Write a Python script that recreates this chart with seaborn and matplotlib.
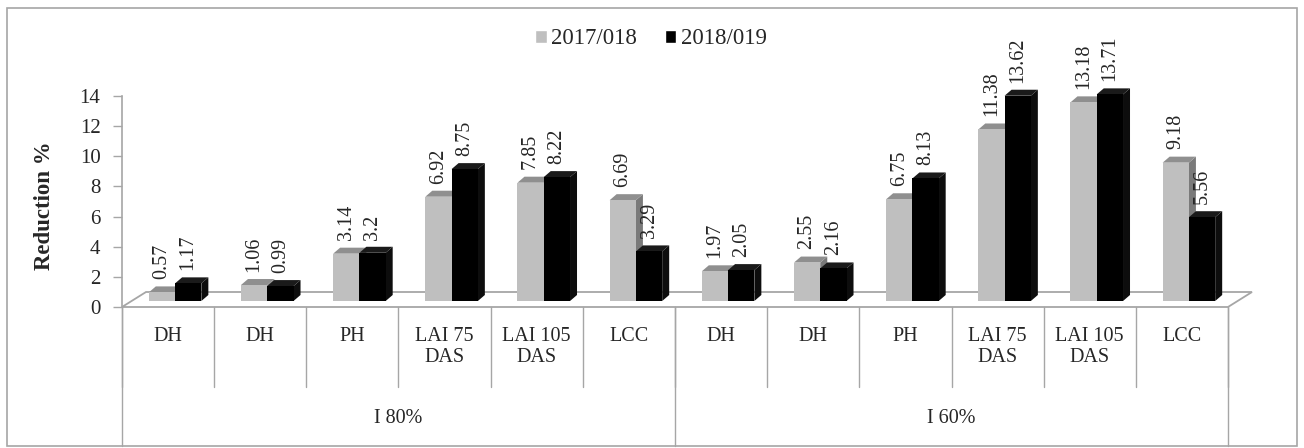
import numpy as np
import pandas as pd
import matplotlib
matplotlib.use("Agg")
import matplotlib.pyplot as plt
import matplotlib.transforms as mtransforms
from matplotlib.patches import Polygon, Rectangle
from matplotlib.lines import Line2D
import seaborn as sns

# ---------------- data ----------------
categories = ["DH", "DH", "PH", "LAI 75\nDAS", "LAI 105\nDAS", "LCC",
              "DH", "DH", "PH", "LAI 75\nDAS", "LAI 105\nDAS", "LCC"]
groups = ["I 80%", "I 60%"]
series_names = ["2017/018", "2018/019"]
season_2017 = [0.57, 1.06, 3.14, 6.92, 7.85, 6.69, 1.97, 2.55, 6.75, 11.38, 13.18, 9.18]
season_2018 = [1.17, 0.99, 3.2, 8.75, 8.22, 3.29, 2.05, 2.16, 8.13, 13.62, 13.71, 5.56]
y_ticks = [0, 2, 4, 6, 8, 10, 12, 14]
series_values = [season_2017, season_2018]

n = len(categories)
df = pd.DataFrame({
    "slot": list(range(n)) * 2,
    "value": season_2017 + season_2018,
    "season": [series_names[0]] * n + [series_names[1]] * n,
})

# ---------------- style ----------------
sns.set_style("white")
plt.rcParams["font.family"] = ["Liberation Serif", "DejaVu Serif"]
FS = 14.5
W, H = 1304, 448
fig = plt.figure(figsize=(W / 100, H / 100), dpi=100)

ax_left, ax_right, y0_px, y14_px = 122, 1228, 307, 96
ax = fig.add_axes([ax_left / W, (H - y0_px) / H, (ax_right - ax_left) / W, (y0_px - y14_px) / H])

front_cols = ["#bfbfbf", "#000000"]
top_cols = ["#8f8f8f", "#1a1a1a"]
side_cols = ["#7a7a7a", "#0d0d0d"]

sns.barplot(data=df, x="slot", y="value", hue="season", palette=front_cols,
            width=0.57, saturation=1, errorbar=None, ax=ax, legend=True)
handles, labels = ax.get_legend_handles_labels()
if ax.get_legend() is not None:
    ax.get_legend().remove()

ax.set_xlim(-0.5, n - 0.5)
ax.set_ylim(0, y_ticks[-1])

# pixel -> data conversion
px_x = (n) / (ax_right - ax_left)
px_y = y_ticks[-1] / (y0_px - y14_px)

shift_x, shift_y = 7 * px_x, 6 * px_y       # bars sit inside the floor depth
ddx, ddy = 7 * px_x, 6 * px_y               # bar 3D depth
floor_dx, floor_dy = 24 * px_x, 15 * px_y   # floor depth

for k, cont in enumerate(ax.containers):
    zf = 3 + 2 * k
    for p in cont.patches:
        p.set_x(p.get_x() + shift_x)
        p.set_y(shift_y)
        p.set_edgecolor("none")
        p.set_zorder(zf)
        p.set_clip_on(False)
        x0, x1 = p.get_x(), p.get_x() + p.get_width()
        yb, yt = p.get_y(), p.get_y() + p.get_height()
        side = Polygon([(x1, yb), (x1 + ddx, yb + ddy), (x1 + ddx, yt + ddy), (x1, yt)],
                       closed=True, facecolor=side_cols[k], edgecolor="none",
                       zorder=zf - 0.5, clip_on=False)
        top = Polygon([(x0, yt), (x0 + ddx, yt + ddy), (x1 + ddx, yt + ddy), (x1, yt)],
                      closed=True, facecolor=top_cols[k], edgecolor="none",
                      zorder=zf - 0.5, clip_on=False)
        ax.add_patch(side)
        ax.add_patch(top)
    ax.bar_label(cont, labels=[f"{v:g}" for v in series_values[k]], rotation=90,
                 padding=9.5, fontsize=FS, zorder=10, annotation_clip=False)

# floor
floor = Polygon([(-0.5, 0), (n - 0.5, 0), (n - 0.5 + floor_dx, floor_dy), (-0.5 + floor_dx, floor_dy)],
                closed=True, facecolor="white", edgecolor="#a6a6a6", linewidth=1.3,
                zorder=1, clip_on=False)
ax.add_patch(floor)

# axes styling
for s in ["top", "right", "bottom"]:
    ax.spines[s].set_visible(False)
ax.spines["left"].set_color("#a6a6a6")
ax.spines["left"].set_linewidth(1.2)
ax.set_yticks(y_ticks)
ax.set_yticklabels([str(t) for t in y_ticks], fontsize=15)
ax.tick_params(axis="y", left=True, length=6.5, width=1, color="#a6a6a6", pad=9)
ax.set_xticks([])
ax.set_xlabel("")
ax.set_ylabel("")
ax.patch.set_alpha(0)

# multi-level category axis
blend = mtransforms.blended_transform_factory(ax.transData, fig.transFigure)
def fy(px):
    return 1 - px / H

for i, lab in enumerate(categories):
    ax.text(i, fy(327), lab, transform=blend, ha="center", va="top",
            fontsize=FS, linespacing=1.15)
for i in range(n + 1):
    ax.add_line(Line2D([i - 0.5, i - 0.5], [fy(y0_px), fy(387)], transform=blend,
                       color="#a6a6a6", lw=1, clip_on=False))
per = n // len(groups)
for g, glab in enumerate(groups):
    ax.text(g * per + (per - 1) / 2, fy(418), glab, transform=blend,
            ha="center", va="center", fontsize=FS)
for g in range(len(groups) + 1):
    xg = g * per - 0.5
    ax.add_line(Line2D([xg, xg], [fy(y0_px), fy(446)], transform=blend,
                       color="#a6a6a6", lw=1, clip_on=False))

# y label
fig.text(44 / W, fy(206), "Reduction %", rotation=90, ha="center", va="center",
         fontsize=16.5, fontweight="bold")

# legend
fig.legend(handles, labels, loc="center", bbox_to_anchor=(651 / W, fy(39)), ncol=2,
           frameon=False, fontsize=16.5, handlelength=0.5, handleheight=0.5,
           handletextpad=0.2, columnspacing=1.2)

# outer border
fig.add_artist(Rectangle((7 / W, 2 / H), (1297 - 7) / W, (446 - 8) / H,
                         transform=fig.transFigure, fill=False,
                         edgecolor="#a6a6a6", linewidth=1.2))

fig.savefig("out.png", dpi=100, facecolor="white")
